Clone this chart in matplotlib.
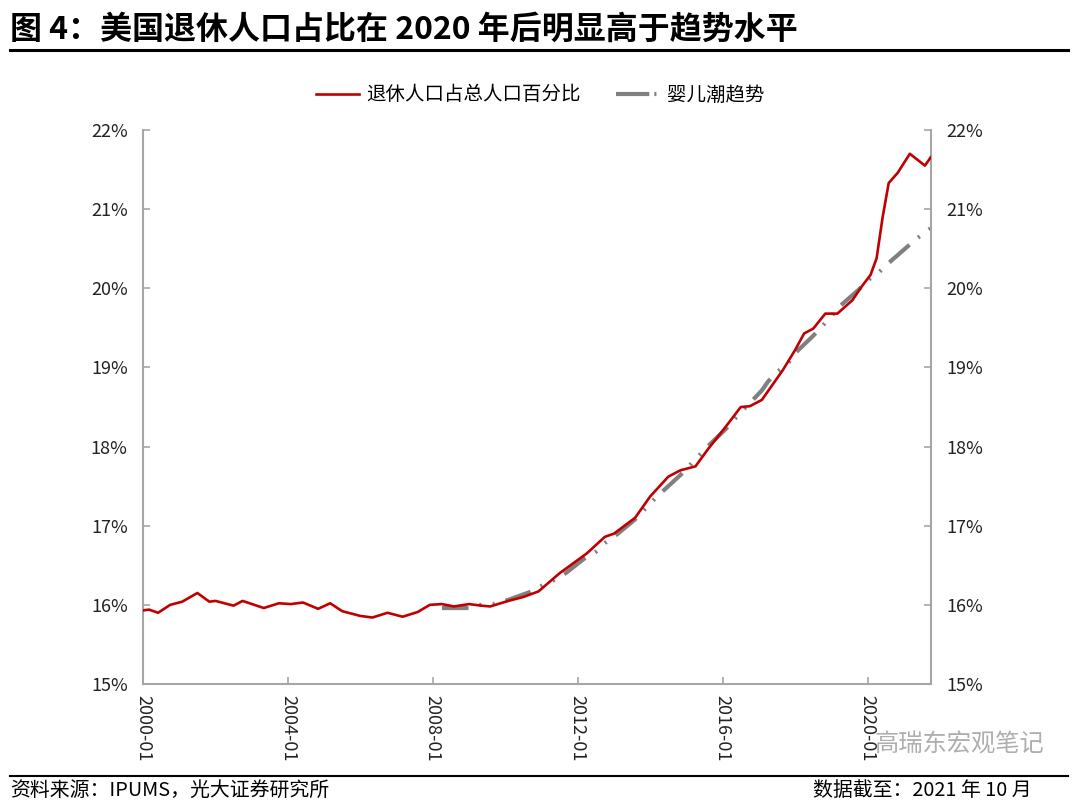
import matplotlib
matplotlib.use('Agg')
import matplotlib.pyplot as plt
from matplotlib.lines import Line2D

plt.rcParams['font.family'] = ['Noto Sans CJK SC', 'DejaVu Sans']

# === data (percent of total population)

retired_months = ['2000-01', '2000-03', '2000-06', '2000-10', '2001-02', '2001-07',
                  '2001-11', '2002-01', '2002-07', '2002-10', '2003-05', '2003-10',
                  '2004-02', '2004-06', '2004-11', '2005-03', '2005-07', '2006-01',
                  '2006-05', '2006-10', '2007-03', '2007-08', '2007-12', '2008-04',
                  '2008-08', '2009-01', '2009-05', '2009-08', '2010-02', '2010-07',
                  '2010-12', '2011-07', '2012-04', '2012-10', '2013-01', '2013-08',
                  '2014-01', '2014-07', '2014-11', '2015-04', '2015-08', '2016-02',
                  '2016-07', '2016-10', '2017-02', '2017-09', '2018-01', '2018-04',
                  '2018-07', '2018-11', '2019-03', '2019-08', '2019-11', '2020-02',
                  '2020-04', '2020-06', '2020-08', '2020-11', '2021-03', '2021-08',
                  '2021-10']
retired_share = [15.93, 15.94, 15.90, 16.00, 16.04, 16.15,
                 16.04, 16.05, 15.99, 16.05, 15.96, 16.02,
                 16.01, 16.03, 15.95, 16.02, 15.92, 15.86,
                 15.84, 15.90, 15.85, 15.91, 16.00, 16.01,
                 15.98, 16.01, 15.99, 15.98, 16.05, 16.10,
                 16.17, 16.40, 16.65, 16.86, 16.90, 17.10,
                 17.37, 17.62, 17.70, 17.75, 17.96, 18.25,
                 18.50, 18.51, 18.59, 18.97, 19.22, 19.43,
                 19.49, 19.68, 19.68, 19.85, 20.02, 20.17,
                 20.38, 20.90, 21.33, 21.46, 21.70, 21.55,
                 21.66]

trend_months = ['2008-04', '2009-01', '2009-05', '2009-09', '2010-01', '2010-09',
                '2011-01', '2011-05', '2011-09', '2012-03', '2012-07', '2012-10',
                '2013-02', '2013-08', '2013-11', '2014-02', '2014-05', '2014-11',
                '2015-02', '2015-05', '2015-08', '2016-02', '2016-05', '2016-08',
                '2017-02', '2017-04', '2017-07', '2017-11', '2018-01', '2018-07',
                '2018-10', '2019-01', '2019-04', '2019-10', '2020-01', '2020-05',
                '2020-08', '2021-02', '2021-05', '2021-10']
trend_share = [15.96, 15.96, 16.00, 16.01, 16.05, 16.16,
               16.24, 16.31, 16.40, 16.58, 16.67, 16.78,
               16.89, 17.08, 17.20, 17.32, 17.43, 17.64,
               17.76, 17.88, 18.00, 18.22, 18.35, 18.47,
               18.71, 18.82, 18.94, 19.07, 19.18, 19.40,
               19.52, 19.65, 19.78, 19.98, 20.10, 20.21,
               20.32, 20.52, 20.62, 20.76]

tick_labels = ['2000-01', '2004-01', '2008-01', '2012-01', '2016-01', '2020-01']
y_ticks = [15, 16, 17, 18, 19, 20, 21, 22]

RED = '#C00000'
GRAY = '#808080'
AXIS_GRAY = '#A6A6A6'


def month_index(s):
    # months since 2000-01
    y, m = s.split('-')
    return (int(y) - 2000) * 12 + int(m) - 1


fig = plt.figure(figsize=(10.8, 8.05), dpi=100)
ax = fig.add_axes([0.1324, 0.1503, 0.7296, 0.6882])

xr = [month_index(s) for s in retired_months]
xt = [month_index(s) for s in trend_months]

trend_dash = (0, (6.4, 2.7, 0.5, 2.7, 0.5, 2.7))
ax.plot(xt, trend_share, color=GRAY, lw=3.0, linestyle=trend_dash,
        dash_capstyle='butt', zorder=2)
ax.plot(xr, retired_share, color=RED, lw=1.9, zorder=3,
        solid_joinstyle='round', solid_capstyle='round')

ax.set_xlim(0, month_index('2021-10'))
ax.set_ylim(15, 22)
ax.set_xticks([month_index(s) for s in tick_labels])
ax.set_xticklabels(tick_labels, rotation=270, fontsize=13, color='#222222')
ax.set_yticks(y_ticks)
ax.set_yticklabels(['%d%%' % v for v in y_ticks], fontsize=13, color='#222222')

ax.tick_params(axis='x', direction='in', length=5, width=1.2, color=AXIS_GRAY, pad=8)
ax.tick_params(axis='y', direction='in', length=5, width=1.2, color=AXIS_GRAY,
               left=True, right=True, labelleft=True, labelright=True, pad=11)

ax.spines['top'].set_visible(False)
for side in ['left', 'right', 'bottom']:
    ax.spines[side].set_color(AXIS_GRAY)
    ax.spines[side].set_linewidth(1.5)

# legend
handles = [Line2D([], [], color=RED, lw=1.9),
           Line2D([], [], color=GRAY, lw=3.0, linestyle=(0, (8, 1.2, 0.5, 3)))]
fig.legend(handles, ['退休人口占总人口百分比', '婴儿潮趋势'],
           loc='center', bbox_to_anchor=(0.5, 0.882), ncol=2, frameon=False,
           fontsize=14, handlelength=2.2, columnspacing=1.8, handletextpad=0.4)

# title and rules
fig.text(0.009, 0.963, '图 4：美国退休人口占比在 2020 年后明显高于趋势水平',
         fontsize=23, fontweight='bold', ha='left', va='center')
fig.add_artist(Line2D([0.009, 0.989], [0.938, 0.938], color='black', lw=2.2))
fig.add_artist(Line2D([0.009, 0.989], [0.036, 0.036], color='black', lw=1.5))

# footer
fig.text(0.009, 0.018, '资料来源：IPUMS，光大证券研究所', fontsize=14.3,
         ha='left', va='center')
fig.text(0.955, 0.018, '数据截至：2021 年 10 月', fontsize=14.3,
         ha='right', va='center')

# watermark
fig.text(0.967, 0.075, '高瑞东宏观笔记', fontsize=17.5, color='#9a9a9a',
         ha='right', va='center', alpha=0.8)

fig.savefig('out.png', dpi=100)
